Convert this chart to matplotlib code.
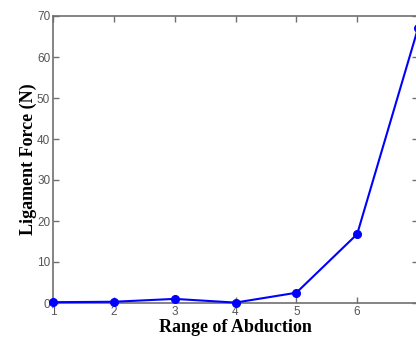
import matplotlib
matplotlib.use("Agg")
import matplotlib.pyplot as plt

x_values = [1, 2, 3, 4, 5, 6, 7]
force_values = [0.2, 0.3, 1.0, 0.1, 2.5, 16.8, 67.0]
x_ticks = [1, 2, 3, 4, 5, 6]
y_ticks = [0, 10, 20, 30, 40, 50, 60, 70]

fig = plt.figure(figsize=(4.16, 3.41), dpi=100)
ax = fig.add_axes([53/416, 1-303/341, (418-53)/416, (303-16)/341])
ax.plot(x_values, force_values, color="#0000ff", lw=1.5, marker="o", ms=5.5, clip_on=False, zorder=5)
ax.set_xlim(1, 7)
ax.set_ylim(0, 70)
ax.set_xticks(x_ticks)
ax.set_yticks(y_ticks)
gray = "#707070"
for s in ax.spines.values():
    s.set_color(gray)
    s.set_linewidth(1.2)
ax.tick_params(direction="in", length=4, width=1, colors=gray, labelsize=8.5,
               top=True, right=True, pad=2)
for lab in ax.get_xticklabels() + ax.get_yticklabels():
    lab.set_fontfamily("Liberation Sans")
    lab.set_color("#555555")
ax.set_xlabel("Range of Abduction", fontfamily="Liberation Serif", fontweight="bold",
              fontsize=13, labelpad=1)
ax.set_ylabel("Ligament Force (N)", fontfamily="Liberation Serif", fontweight="bold",
              fontsize=13, labelpad=0)
fig.savefig("out.png", dpi=100)
